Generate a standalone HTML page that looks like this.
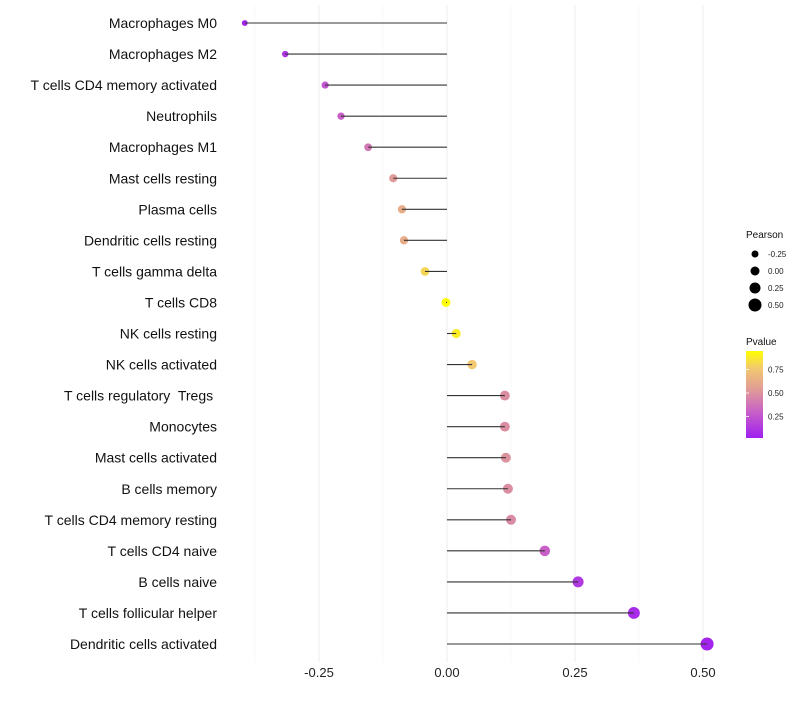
<!DOCTYPE html>
<html><head><meta charset="utf-8"><style>
body{margin:0;background:#fff;}
svg text{font-family:"Liberation Sans",sans-serif;white-space:pre;}
</style></head><body>
<svg id="c" width="800" height="700" xmlns="http://www.w3.org/2000/svg">
<defs><linearGradient id="pg" x1="0" y1="1" x2="0" y2="0">
<stop offset="0" stop-color="#a020f0"/><stop offset="0.3" stop-color="#c860c8"/><stop offset="0.55" stop-color="#e09a98"/><stop offset="0.8" stop-color="#f2c870"/><stop offset="1" stop-color="#ffff00"/></linearGradient></defs>
<g id="grid"></g><g id="marks"></g><g id="labels"></g><g id="legend"></g>
</svg>
<script>
const categories=["Macrophages M0","Macrophages M2","T cells CD4 memory activated","Neutrophils","Macrophages M1","Mast cells resting","Plasma cells","Dendritic cells resting","T cells gamma delta","T cells CD8","NK cells resting","NK cells activated","T cells regulatory  Tregs ","Monocytes","Mast cells activated","B cells memory","T cells CD4 memory resting","T cells CD4 naive","B cells naive","T cells follicular helper","Dendritic cells activated"];
const pearson=[-0.395,-0.316,-0.238,-0.207,-0.154,-0.105,-0.088,-0.084,-0.043,-0.002,0.018,0.049,0.113,0.113,0.115,0.119,0.125,0.191,0.256,0.365,0.508];
const pvalue=[0.02,0.1,0.25,0.3,0.4,0.55,0.65,0.65,0.85,0.99,0.93,0.8,0.5,0.5,0.52,0.5,0.48,0.3,0.12,0.05,0.02];
const xTicks=[-0.25,0,0.25,0.5];
const xTickLabels=["-0.25","0.00","0.25","0.50"];
const sizeBreaks=[-0.25,0,0.25,0.5];
const sizeLabels=["-0.25","0.00","0.25","0.50"];
const pBreaks=[0.25,0.5,0.75];
const pLabels=["0.25","0.50","0.75"];
const NS="http://www.w3.org/2000/svg";
const x=v=>447+v*512;
const y=i=>23+i*31.05;
const r=v=>Math.max(1.5,4.5+4*v);
function col(p){const s=[[0,[160,32,240]],[0.3,[200,96,200]],[0.55,[224,154,152]],[0.8,[242,200,112]],[1,[255,255,0]]];
for(let k=1;k<s.length;k++){if(p<=s[k][0]){const t=(p-s[k-1][0])/(s[k][0]-s[k-1][0]);const a=s[k-1][1],b=s[k][1];return `rgb(${a.map((c,j)=>Math.round(c+(b[j]-c)*t)).join(',')})`;}}return 'rgb(255,255,0)';}
function mk(tag,at,parent,txt){const e=document.createElementNS(NS,tag);for(const k in at)e.setAttribute(k,at[k]);if(txt!==undefined)e.textContent=txt;document.getElementById(parent).appendChild(e);return e;}
[-0.375,-0.125,0.125,0.375].forEach(v=>{const g=mk('line',{x1:x(v),x2:x(v),y1:5,y2:662,stroke:'#f5f5f5','stroke-width':0.6},'grid');

});
xTicks.forEach((v,i)=>{const g=mk('line',{x1:x(v),x2:x(v),y1:5,y2:662,stroke:'#eeeeee','stroke-width':1},'grid');


const t=mk('text',{x:x(v),y:677,'text-anchor':'middle','font-size':13,fill:'#222'},'labels',xTickLabels[i]);

});
categories.forEach((c,i)=>{const t=mk('text',{x:217,y:y(i)+5,'text-anchor':'end','font-size':14,fill:'#111'},'labels',c);


const d=mk('circle',{cx:x(pearson[i]),cy:y(i),r:r(pearson[i]),fill:col(pvalue[i])},'marks');


const l=mk('line',{x1:x(0),x2:x(pearson[i]),y1:y(i),y2:y(i),stroke:'#333','stroke-width':1.1},'marks');

});
let t=mk('text',{x:746,y:238,'font-size':10,fill:'#111'},'legend','Pearson');


sizeBreaks.forEach((v,i)=>{const cy=254+i*17;
const c=mk('circle',{cx:755,cy:cy,r:r(v),fill:'#000'},'legend');


const tt=mk('text',{x:768,y:cy+3,'font-size':8,fill:'#222'},'legend',sizeLabels[i]);

});
t=mk('text',{x:746,y:345,'font-size':10,fill:'#111'},'legend','Pvalue');


const bar=mk('rect',{x:746,y:351,width:17,height:87,fill:'url(#pg)'},'legend');


const py=p=>440-p*94;
pBreaks.forEach((p,i)=>{const tt=mk('text',{x:768,y:py(p)+3,'font-size':8,fill:'#222'},'legend',pLabels[i]);


const tk=mk('line',{x1:746,x2:749,y1:py(p),y2:py(p),stroke:'#fff','stroke-width':0.8},'legend');

});
</script>
</body></html>
